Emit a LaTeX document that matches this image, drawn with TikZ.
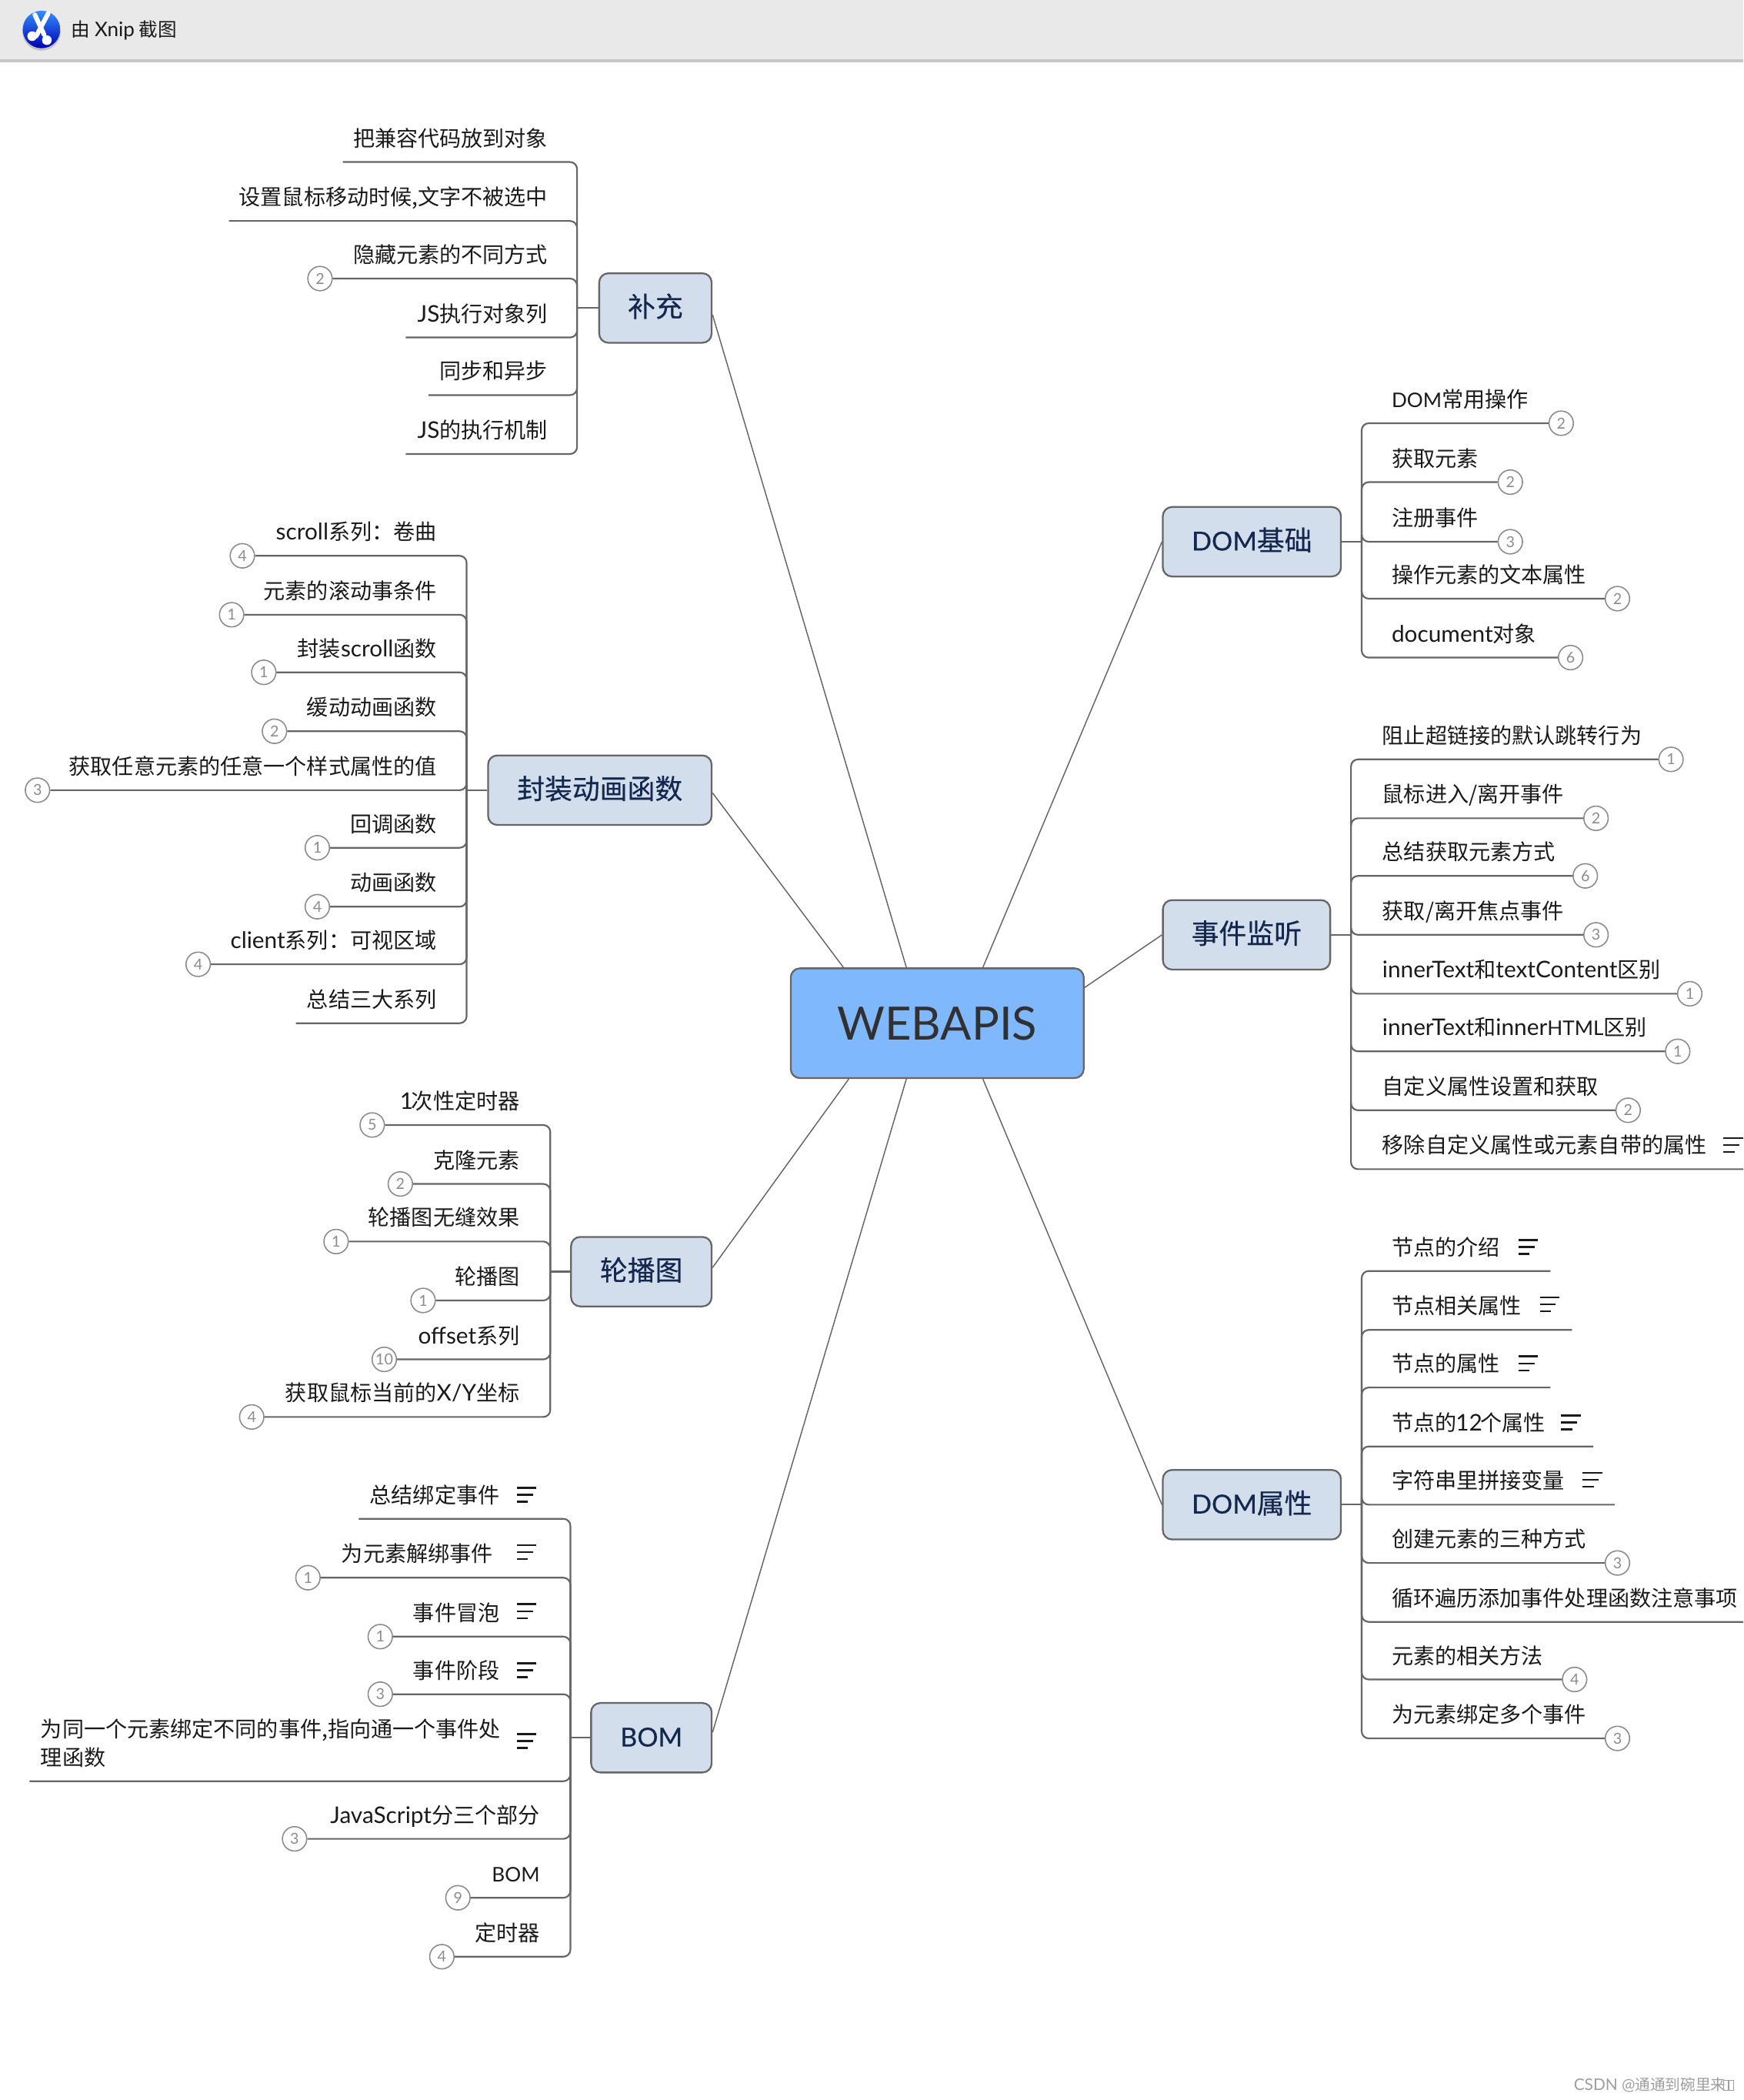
\documentclass[tikz,border=0pt]{standalone}
\usepackage{fontspec}
\setmainfont{Noto Sans CJK SC}
\newfontfamily\latinface{Lato}
\newfontfamily\topicface[FakeBold=0.35]{Noto Sans CJK SC}
\newfontfamily\topiclatin[FakeBold=0.35,Scale=0.95]{Lato}
\newcommand\La[1]{{\latinface\addfontfeature{Scale=1.06}#1}}
\newcommand\LaC[1]{{\latinface\addfontfeature{Scale=0.93}#1}}
\newcommand\LaT[1]{{\topiclatin #1}}
\definecolor{linegray}{HTML}{666666}
\definecolor{ringgray}{HTML}{8C8C8C}
\definecolor{inktext}{HTML}{1A1A1A}
\definecolor{topicink}{HTML}{14284F}
\definecolor{topicfill}{HTML}{D3DEEC}
\definecolor{centerfill}{HTML}{7FB8FC}
\definecolor{barfill}{HTML}{E9E9E9}
\definecolor{barline}{HTML}{C8C8C8}
\tikzset{
  x=0.017404cm,y=-0.017404cm,
  conn/.style={draw=linegray,line width=0.62pt,rounded corners=2.6pt},
  branch/.style={draw=linegray,line width=0.42pt},
  leaftext/.style={inner sep=0pt,text=inktext,font=\fontsize{8}{10.4}\selectfont,text height=6.6pt,text depth=1.4pt},
  badge/.style={circle,draw=ringgray,line width=0.45pt,fill=white,minimum size=9pt,inner sep=0pt,text=ringgray,font=\latinface\fontsize{5.6}{6}\selectfont},
  topic/.style={rectangle,rounded corners=3.4pt,draw=linegray,line width=0.65pt,fill=topicfill,text=topicink,inner sep=0pt,font=\topicface\fontsize{10.2}{12}\selectfont,text height=8pt,text depth=1.5pt},
  notemark/.style={draw=inktext,line width=0.7pt},
}
% text right aligned (left side), round badge at the free end
\newcommand\leafLB[7]{% name, stem, text, xright, y, badge, badgex
  \node[leaftext,anchor=east] (#1) at (#4+1.5,#5-17) {#3};
  \node[badge] (#1b) at (#7,#5) {#6};
  \draw[conn] (#2) |- (#1b.east);}
% text right aligned, plain free end
\newcommand\leafLN[6]{% name, stem, text, xright, y, xleft
  \node[leaftext,anchor=east] (#1) at (#4+1.5,#5-17) {#3};
  \coordinate (#1e) at (#6,#5);
  \draw[conn] (#2) |- (#1e);}
% text left aligned (right side), round badge
\newcommand\leafRB[7]{%
  \node[leaftext,anchor=west] (#1) at (#4,#5-17) {#3};
  \node[badge] (#1b) at (#7,#5) {#6};
  \draw[conn] (#2) |- (#1b.west);}
% text left aligned, plain free end
\newcommand\leafRN[6]{%
  \node[leaftext,anchor=west] (#1) at (#4,#5-17) {#3};
  \coordinate (#1e) at (#6,#5);
  \draw[conn] (#2) |- (#1e);}
% three-line note mark, x = left edge, y = centre
\newcommand\notem[2]{%
  \draw[notemark] (#1,#2-5.2) -- ++(14.7,0);
  \draw[notemark] (#1,#2) -- ++(12,0);
  \draw[notemark] (#1,#2+5.2) -- ++(8.4,0);}
\begin{document}
\begin{tikzpicture}
\useasboundingbox (0,0) rectangle (1302,1568);
\fill[white] (0,0) rectangle (1302,1568);
% title bar
\fill[barfill] (0,0) rectangle (1302,44);
\fill[barline] (0,44) rectangle (1302,46.5);
\fill[black!25] (31,23.5) circle (14.3);
\shade[top color=blue!55!cyan!80!white,bottom color=blue!70!black] (31,22) circle (14);
\draw[white,line width=1.7pt,line cap=round] (36,10) -- (27,27);
\draw[white,line width=1.7pt,line cap=round] (26,11) -- (33,26);
\fill[white] (24,27) circle (3.6);
\fill[white] (35,30) circle (3.6);
\node[inner sep=0pt,anchor=west,text=inktext,font=\fontsize{7}{9}\selectfont] (xniptitle) at (53,22.5) {由 \La{Xnip} 截图};
% centre
\node[rectangle,rounded corners=3.4pt,draw=linegray,line width=0.65pt,fill=centerfill,text=inktext!90,inner sep=0pt,font=\latinface\fontsize{17}{22}\selectfont,minimum width=108.4pt,minimum height=40.6pt] (center) at (700,764) {WEBAPIS};
% topics
\node[topic,minimum width=41.6pt,minimum height=25.7pt] (t1) at (489.5,230) {补充};
\node[topic,minimum width=82.7pt,minimum height=25.7pt] (t2) at (448,590) {封装动画函数};
\node[topic,minimum width=52pt,minimum height=25.7pt] (t3) at (479,949.5) {轮播图};
\node[topic,minimum width=44.6pt,minimum height=25.7pt] (t4) at (486.5,1297.5) {\LaT{BOM}};
\node[topic,minimum width=65.9pt,minimum height=25.7pt] (t5) at (935,404.5) {\LaT{DOM}基础};
\node[topic,minimum width=61.9pt,minimum height=25.7pt] (t6) at (931,698) {事件监听};
\node[topic,minimum width=65.9pt,minimum height=25.7pt] (t7) at (935,1123.5) {\LaT{DOM}属性};
% main branches
\draw[branch] ([shift={(87,0)}]center.north west) -- ([shift={(0,5)}]t1.east);
\draw[branch] ([shift={(40,0)}]center.north west) -- ([shift={(0,2)}]t2.east);
\draw[branch] ([shift={(44,0)}]center.south west) -- ([shift={(0,-3)}]t3.east);
\draw[branch] ([shift={(87,0)}]center.south west) -- ([shift={(0,-4)}]t4.east);
\draw[branch] ([shift={(-76,0)}]center.north east) -- (t5.west);
\draw[branch] ([shift={(0,15)}]center.north east) -- (t6.west);
\draw[branch] ([shift={(-76,0)}]center.south east) -- (t7.west);
% stems
\coordinate (s1) at (431,230); \coordinate (s2) at (348.5,590); \coordinate (s3) at (411,949.5); \coordinate (s4) at (426,1297.5);
\coordinate (s5) at (1017,404.5); \coordinate (s6) at (1009,698); \coordinate (s7) at (1017,1123.5);
\draw[conn] (t1.west) -- (s1); \draw[conn] (t2.west) -- (s2); \draw[conn] (t3.west) -- (s3); \draw[conn] (t4.west) -- (s4);
\draw[conn] (t5.east) -- (s5); \draw[conn] (t6.east) -- (s6); \draw[conn] (t7.east) -- (s7);
% 补充
\leafLN{a1}{s1}{把兼容代码放到对象}{408}{121}{256}
\leafLN{a2}{s1}{设置鼠标移动时候,文字不被选中}{408}{165}{171}
\leafLB{a3}{s1}{隐藏元素的不同方式}{408}{208}{2}{239}
\leafLN{a4}{s1}{\La{JS}执行对象列}{408}{252}{303}
\leafLN{a5}{s1}{同步和异步}{408}{295}{320}
\leafLN{a6}{s1}{\La{JS}的执行机制}{408}{339}{303}
% 封装动画函数
\leafLB{b1}{s2}{\La{scroll}系列：卷曲}{325}{415}{4}{181}
\leafLB{b2}{s2}{元素的滚动事条件}{325}{459}{1}{173}
\leafLB{b3}{s2}{封装\La{scroll}函数}{325}{502}{1}{197}
\leafLB{b4}{s2}{缓动动画函数}{325}{546}{2}{205}
\leafLB{b5}{s2}{获取任意元素的任意一个样式属性的值}{325}{590}{3}{28}
\leafLB{b6}{s2}{回调函数}{325}{633}{1}{237}
\leafLB{b7}{s2}{动画函数}{325}{677}{4}{237}
\leafLB{b8}{s2}{\La{client}系列：可视区域}{325}{720}{4}{148}
\leafLN{b9}{s2}{总结三大系列}{325}{764}{221}
% 轮播图
\leafLB{c1}{s3}{\La{1}\kern-0.6pt次性定时器}{387}{840}{5}{278}
\leafLB{c2}{s3}{克隆元素}{387}{884}{2}{299}
\leafLB{c3}{s3}{轮播图无缝效果}{387}{927}{1}{251}
\leafLB{c4}{s3}{轮播图}{387}{971}{1}{316}
\leafLB{c5}{s3}{\La{offset}系列}{387}{1015}{10}{287}
\leafLB{c6}{s3}{获取鼠标当前的\La{X/Y}坐标}{387}{1058}{4}{188}
% BOM
\leafLN{d1}{s4}{总结绑定事件}{372}{1134}{268} \notem{386}{1116}
\leafLB{d2}{s4}{为元素解绑事件}{367}{1178}{1}{230} \notem{386}{1159}
\leafLB{d3}{s4}{事件冒泡}{372}{1222}{1}{284} \notem{386}{1203}
\leafLB{d4}{s4}{事件阶段}{372}{1265}{3}{284} \notem{386}{1247}
\node[inner sep=0pt,text=inktext,font=\fontsize{8}{10.4}\selectfont,align=left,anchor=west] (d5) at (30,1301.5) {为同一个元素绑定不同的事件,指向通一个事件处\\理函数};
\coordinate (d5e) at (22,1330);
\draw[conn] (s4) |- (d5e);
\notem{386}{1300}
\leafLB{d6}{s4}{\La{JavaScript}分三个部分}{402}{1373}{3}{220}
\leafLB{d7}{s4}{\LaC{BOM}}{402}{1417}{9}{342}
\leafLB{d8}{s4}{定时器}{402}{1461}{4}{330}
% DOM基础
\leafRB{e1}{s5}{\LaC{DOM}常用操作}{1039}{316}{2}{1166}
\leafRB{e2}{s5}{获取元素}{1039}{360}{2}{1128}
\leafRB{e3}{s5}{注册事件}{1039}{404.5}{3}{1128}
\leafRB{e4}{s5}{操作元素的文本属性}{1039}{447}{2}{1208}
\leafRB{e5}{s5}{\La{document}对象}{1039}{491}{6}{1173}
% 事件监听
\leafRB{f1}{s6}{阻止超链接的默认跳转行为}{1032}{567}{1}{1248}
\leafRB{f2}{s6}{鼠标进入/离开事件}{1032}{611}{2}{1192}
\leafRB{f3}{s6}{总结获取元素方式}{1032}{654}{6}{1184}
\leafRB{f4}{s6}{获取/离开焦点事件}{1032}{698}{3}{1192}
\leafRB{f5}{s6}{\La{innerText}和\La{textContent}区别}{1032}{742}{1}{1262}
\leafRB{f6}{s6}{\La{innerText}和\La{inner}\LaC{HTML}区别}{1032}{785}{1}{1253}
\leafRB{f7}{s6}{自定义属性设置和获取}{1032}{829}{2}{1216}
\leafRN{f8}{s6}{移除自定义属性或元素自带的属性}{1032}{873}{1302} \notem{1287}{855}
% DOM属性
\leafRN{g1}{s7}{节点的介绍}{1039}{949}{1158} \notem{1134}{931}
\leafRN{g2}{s7}{节点相关属性}{1039}{993}{1174} \notem{1150}{974}
\leafRN{g3}{s7}{节点的属性}{1039}{1036}{1158} \notem{1134}{1018}
\leafRN{g4}{s7}{节点的\kern-0.3pt\La{12}\kern-0.6pt个属性}{1039}{1080}{1190} \notem{1166}{1062}
\leafRN{g5}{s7}{字符串里拼接变量}{1039}{1123.5}{1206} \notem{1182}{1105}
\leafRB{g6}{s7}{创建元素的三种方式}{1039}{1167}{3}{1208}
\leafRN{g7}{s7}{循环遍历添加事件处理函数注意事项}{1039}{1211}{1302}
\leafRB{g8}{s7}{元素的相关方法}{1039}{1254}{4}{1176}
\leafRB{g9}{s7}{为元素绑定多个事件}{1039}{1298}{3}{1208}
% watermark
\node[inner sep=0pt,anchor=west,text=black!38,font=\fontsize{5.6}{7}\selectfont] (mark) at (1175,1557) {\La{CSDN @}通通到碗里来};
\draw[black!38,line width=0.2pt] (1287.5,1553.5) rectangle ++(3,7) (1291.5,1553.5) rectangle ++(3,7);
\end{tikzpicture}
\end{document}
